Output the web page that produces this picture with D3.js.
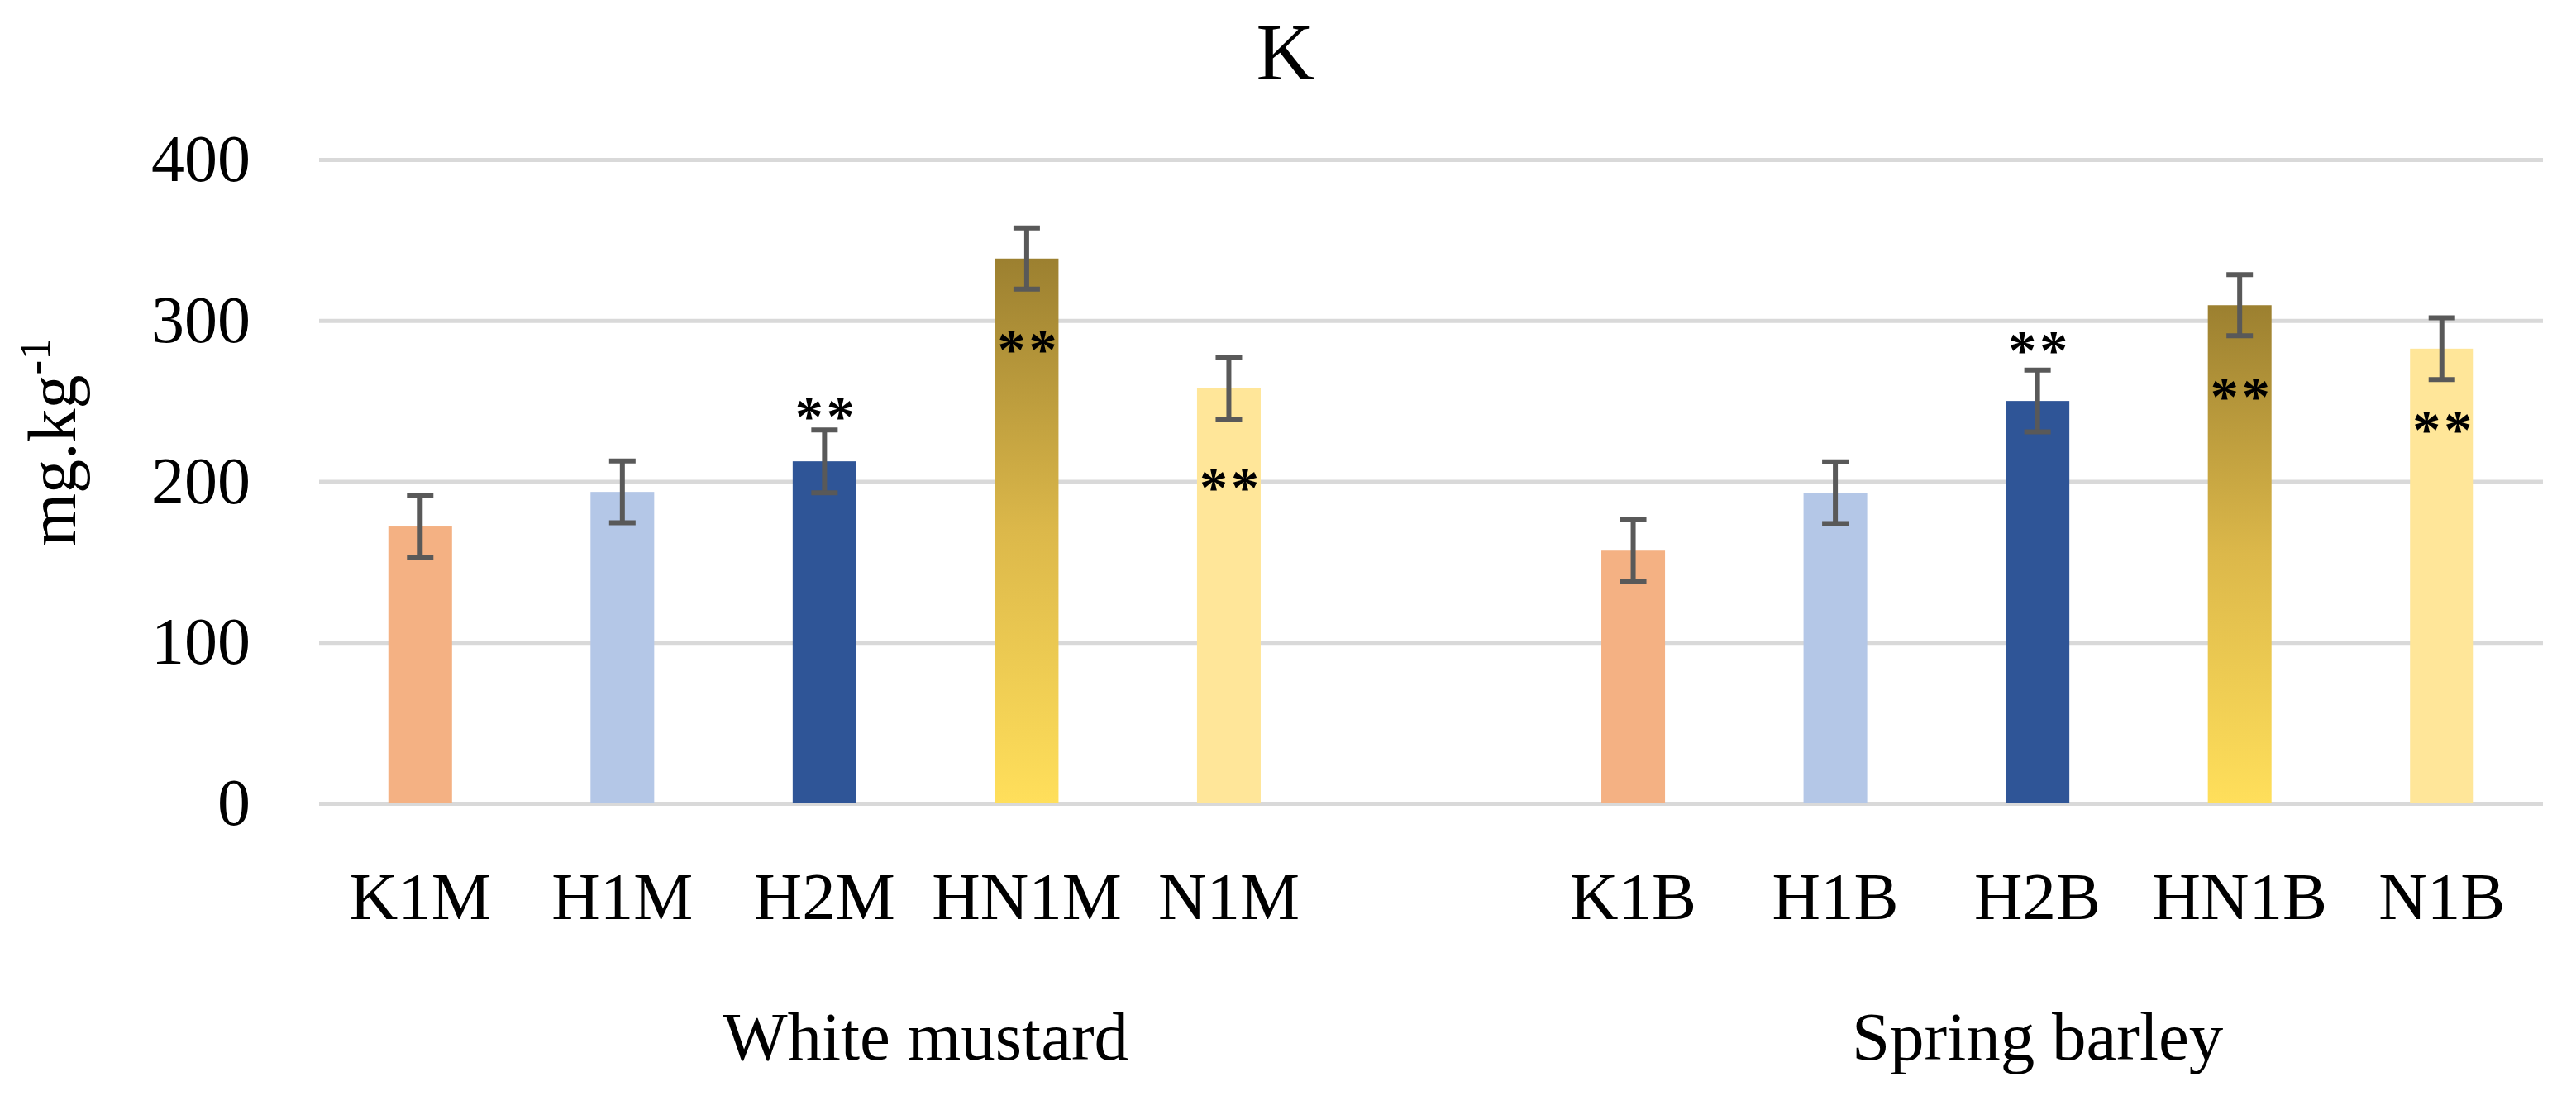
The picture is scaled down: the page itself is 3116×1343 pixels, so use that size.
<!DOCTYPE html>
<html>
<head>
<meta charset="utf-8">
<script src="https://cdn.jsdelivr.net/npm/d3@7"></script>
<style>
  html, body { margin: 0; padding: 0; background: #ffffff; }
  svg { display: block; }
  text { font-family: "Palatino Linotype", "Book Antiqua", Palatino, "Liberation Serif", serif; fill: #000; }
</style>
</head>
<body>
<script>
// ---- data ----
const categories = ["K1M", "H1M", "H2M", "HN1M", "N1M", "K1B", "H1B", "H2B", "HN1B", "N1B"];
const groupOf    = ["White mustard", "White mustard", "White mustard", "White mustard", "White mustard",
                    "Spring barley", "Spring barley", "Spring barley", "Spring barley", "Spring barley"];
const treatments = ["K1", "H1", "H2", "HN1", "N1", "K1", "H1", "H2", "HN1", "N1"];
const values     = [172, 193.5, 212.5, 338.5, 258, 157, 193, 250, 309.5, 282.5];
const errors     = [19, 19.2, 19.5, 19, 19.3, 19.3, 19.2, 19.2, 19, 19.2];
const signif     = ["", "", "**", "**", "**", "", "", "**", "**", "**"];
const signifAt   = [null, null, 245.5, 287, 201.5, null, null, 286.5, 258, 237];
const groups     = ["White mustard", "Spring barley"];
const yTicks     = [0, 100, 200, 300, 400];
const title      = "K";

// ---- layout ----
const W = 3116, H = 1343;
const plotL = 386, plotR = 3076, plotT = 193, plotB = 972;
const FONT = "'Palatino Linotype', 'Book Antiqua', Palatino, 'Liberation Serif', serif";

const svg = d3.select("body").append("svg").attr("width", W).attr("height", H);

// gradient for HN1 bars
const defs = svg.append("defs");
const grad = defs.append("linearGradient").attr("id", "gradHN")
  .attr("x1", 0).attr("y1", 1).attr("x2", 0).attr("y2", 0);
grad.append("stop").attr("offset", "0%").attr("stop-color", "#FFDF5B");
grad.append("stop").attr("offset", "50%").attr("stop-color", "#DCB84A");
grad.append("stop").attr("offset", "100%").attr("stop-color", "#9C8030");

const colorOf = {K1: "#F4B183", H1: "#B4C7E7", H2: "#2F5597", HN1: "url(#gradHN)", N1: "#FFE699"};

// slots: categories with a blank slot after the first group
const slots = [];
categories.forEach((c, i) => {
  slots.push(c);
  if (i < categories.length - 1 && groupOf[i] !== groupOf[i + 1]) slots.push("_gap" + i);
});

const x = d3.scaleBand().domain(slots).range([plotL, plotR])
  .paddingInner(0.685).paddingOuter(0.3425);
const y = d3.scaleLinear().domain([0, 400]).range([plotB, plotT]);

// gridlines + y tick labels
const yAxis = svg.append("g").attr("transform", `translate(${plotL},0)`)
  .call(d3.axisLeft(y).tickValues(yTicks).tickSize(-(plotR - plotL)).tickPadding(83));
yAxis.select(".domain").remove();
yAxis.selectAll(".tick line").attr("stroke", "#D9D9D9").attr("stroke-width", 5);
yAxis.selectAll(".tick text").attr("font-size", 80).attr("fill", "#000").style("font-family", FONT);

// category labels
const xAxis = svg.append("g").attr("transform", `translate(0,${plotB})`)
  .call(d3.axisBottom(x).tickSize(0).tickPadding(82.5)
    .tickFormat(d => d.startsWith("_gap") ? "" : d));
xAxis.select(".domain").remove();
xAxis.selectAll(".tick text").attr("font-size", 81).attr("fill", "#000").style("font-family", FONT);

// group labels (first group spans its categories plus the blank slot)
groups.forEach((g, gi) => {
  const idx = slots.map((s, i) => i).filter(i => {
    const s = slots[i];
    if (s.startsWith("_gap")) return gi === 0;
    return groupOf[categories.indexOf(s)] === g;
  });
  const x0 = x(slots[idx[0]]) + x.bandwidth() / 2;
  const x1 = x(slots[idx[idx.length - 1]]) + x.bandwidth() / 2;
  svg.append("text").attr("x", (x0 + x1) / 2).attr("y", 1282)
    .attr("text-anchor", "middle").attr("font-size", 83).text(g);
});

// data rows
const rows = categories.map((c, i) => ({
  cat: c, tr: treatments[i], v: values[i], e: errors[i], s: signif[i], sy: signifAt[i]
}));

// bars
svg.append("g").selectAll("rect").data(rows).join("rect")
  .attr("x", d => x(d.cat))
  .attr("width", x.bandwidth())
  .attr("y", d => y(d.v))
  .attr("height", d => y(0) - y(d.v))
  .attr("fill", d => colorOf[d.tr]);

// error bars
const eb = svg.append("g").attr("stroke", "#595959").attr("stroke-width", 6);
const capW = 32;
rows.forEach(d => {
  const cx = x(d.cat) + x.bandwidth() / 2;
  eb.append("line").attr("x1", cx).attr("x2", cx).attr("y1", y(d.v + d.e)).attr("y2", y(d.v - d.e));
  eb.append("line").attr("x1", cx - capW / 2).attr("x2", cx + capW / 2).attr("y1", y(d.v + d.e)).attr("y2", y(d.v + d.e));
  eb.append("line").attr("x1", cx - capW / 2).attr("x2", cx + capW / 2).attr("y1", y(d.v - d.e)).attr("y2", y(d.v - d.e));
});

// significance marks
const fsA = 68;
svg.append("g").selectAll("text").data(rows.filter(d => d.s)).join("text")
  .attr("x", d => x(d.cat) + x.bandwidth() / 2 + 2.5)
  .attr("y", d => y(d.sy) + 0.47 * fsA)
  .attr("text-anchor", "middle")
  .attr("font-size", fsA)
  .attr("font-weight", "bold")
  .attr("letter-spacing", 4)
  .text(d => d.s);

// y-axis title
const yt = svg.append("text").attr("transform", "translate(91,535) rotate(-90)")
  .attr("text-anchor", "middle").attr("font-size", 82);
yt.append("tspan").text("mg.kg");
yt.append("tspan").attr("font-size", 53).attr("dy", -31).text("-1");

// chart title
svg.append("text").attr("x", 1555).attr("y", 96).attr("text-anchor", "middle")
  .attr("font-size", 98).text(title);
</script>
</body>
</html>
